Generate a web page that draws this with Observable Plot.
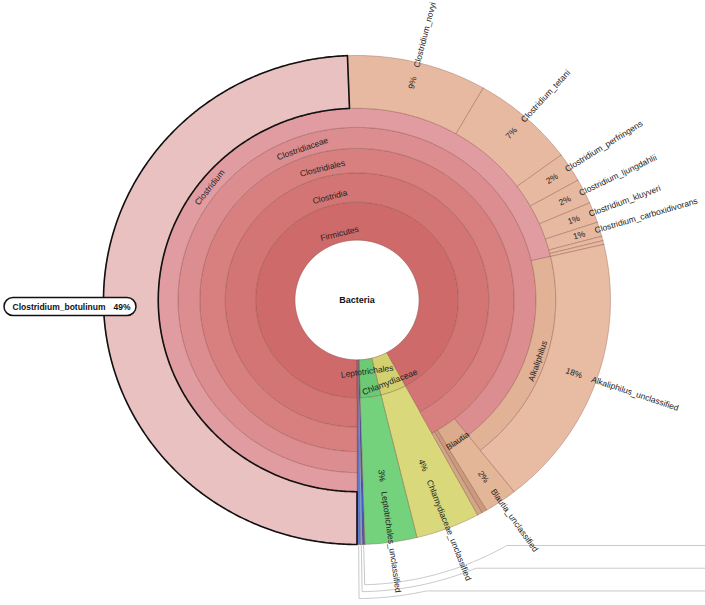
<!DOCTYPE html>
<html><head><meta charset="utf-8">
<script src="https://cdn.jsdelivr.net/npm/d3@7"></script>
<script src="https://cdn.jsdelivr.net/npm/@observablehq/plot@0.6"></script>
<style>body{margin:0;background:#fff}</style>
</head><body><div id="chart"></div>
<script>
// ---------------- DATA ----------------
const leafNames = [
  "Clostridium_botulinum","Clostridium_novyi","Clostridium_tetani","Clostridium_perfringens",
  "Clostridium_ljungdahlii","Clostridium_kluyveri","Clostridium_carboxidivorans",
  "Clostridium_other_1","Clostridium_other_2",
  "Alkaliphilus_unclassified","Blautia_unclassified",
  "Clostridiales_other_1","Clostridiales_other_2",
  "Chlamydiaceae_unclassified","Leptotrichales_unclassified",
  "Bacteria_other_1","Bacteria_other_2","Bacteria_other_3"
];
const leafPercents = [49.4, 8.9, 6.6, 1.95, 1.65, 1.35, 0.95, 0.3, 0.25, 18.0, 2.1, 0.35, 0.3, 4.1, 3.3, 0.17, 0.12, 0.21];
const CLOS = "Bacteria;Firmicutes;Clostridia;Clostridiales;Clostridiaceae;Clostridium";
const leafLineages = [
  CLOS, CLOS, CLOS, CLOS, CLOS, CLOS, CLOS, CLOS, CLOS,
  "Bacteria;Firmicutes;Clostridia;Clostridiales;Clostridiaceae;Alkaliphilus",
  "Bacteria;Firmicutes;Clostridia;Clostridiales;Blautia",
  "Bacteria;Firmicutes;Clostridia;Clostridiales",
  "Bacteria;Firmicutes;Clostridia;Clostridiales",
  "Bacteria;Chlamydiaceae",
  "Bacteria;Leptotrichales",
  "Bacteria","Bacteria","Bacteria"
];
const rootName = "Bacteria";
const selectedLeaf = "Clostridium_botulinum";

// ---------------- STYLE / LAYOUT ----------------
const ringR = [0, 0.245, 0.40, 0.52, 0.62, 0.706, 0.784, 1.0];
const START = 180; // degrees clockwise from 12 o'clock
const colors = {
  "Bacteria": "#ffffff",
  "Firmicutes": "#cf6a6a", "Clostridia": "#d47575", "Clostridiales": "#d88080",
  "Clostridiaceae": "#dc8d8f", "Clostridium": "#e09ca0",
  "Clostridium_botulinum": "#eac1c1",
  "Alkaliphilus": "#e2b296", "Alkaliphilus_unclassified": "#e7bca2",
  "Blautia": "#dcab8d", "Blautia_unclassified": "#e4b698",
  "Clostridiales_other_1": "#c99b7c", "Clostridiales_other_2": "#d3a688",
  "Chlamydiaceae": "#d3d070", "Chlamydiaceae_unclassified": "#d9d97b",
  "Leptotrichales": "#6cc974", "Leptotrichales_unclassified": "#74d17c",
  "Bacteria_other_1": "#4a5ac4", "Bacteria_other_2": "#7eb6e8", "Bacteria_other_3": "#5d7ad2"
};
const defaultSpeciesColor = "#e6b9a0";
const labelExtra = {"Chlamydiaceae": 0.065, "Blautia": 0.03};
const FONT = "Liberation Sans, Arial, Helvetica, sans-serif";
const SX = 253.5, SY = 244.5; // pixel radii of the unit circle

// ---------------- BUILD NODES ----------------
const rad = d => d * Math.PI / 180;
const pos = (r, a) => [r * Math.sin(rad(a)), r * Math.cos(rad(a))];
const nodes = new Map();
let acc = START;
leafNames.forEach((name, i) => {
  const span = leafPercents[i] * 3.6;
  const a0 = acc, a1 = acc + span; acc = a1;
  const path = leafLineages[i].split(";").concat(name);
  path.forEach((n, j) => {
    const key = path.slice(0, j + 1).join(";");
    const last = j === path.length - 1;
    if (!nodes.has(key)) nodes.set(key, {name: n, ring0: j, ring1: last ? 6 : j, a0, a1, leaf: last, pct: 0});
    const nd = nodes.get(key);
    nd.a0 = Math.min(nd.a0, a0); nd.a1 = Math.max(nd.a1, a1); nd.pct += leafPercents[i];
  });
});

function wedgePts(id, a0, a1, r0, r1, color) {
  const pts = [];
  const n = Math.max(2, Math.ceil((a1 - a0) / 0.5));
  for (let k = 0; k <= n; k++) { const a = a0 + (a1 - a0) * k / n; const [x, y] = pos(r1, a); pts.push({id, x, y, color}); }
  if (r0 > 0) for (let k = n; k >= 0; k--) { const a = a0 + (a1 - a0) * k / n; const [x, y] = pos(r0, a); pts.push({id, x, y, color}); }
  pts.push({...pts[0]});
  return pts;
}

const nodeList = Array.from(nodes.entries()).map(([key, nd]) => ({key, ...nd}))
  .sort((a, b) => a.ring0 - b.ring0);
let wedgeData = [];
for (const nd of nodeList) {
  const col = colors[nd.name] || defaultSpeciesColor;
  if (nd.ring0 === 0) wedgeData = wedgeData.concat(wedgePts(nd.key, 0, 360, 0, ringR[1], col));
  else wedgeData = wedgeData.concat(wedgePts(nd.key, nd.a0, nd.a1, ringR[nd.ring0], ringR[nd.ring1 + 1], col));
}
const sel = nodeList.find(n => n.name === selectedLeaf);
const selOutline = wedgePts("sel", sel.a0, sel.a1, ringR[sel.ring0], ringR[sel.ring1 + 1], "none");

// internal (tangential) labels
const innerLabels = [];
for (const nd of nodeList) {
  if (nd.ring0 === 0 || nd.leaf || nd.a1 - nd.a0 < 3) continue;
  const m = (nd.a0 + nd.a1) / 2;
  let t = ((m + 180) % 360 + 360) % 360 - 180;
  let flipped = false;
  if (t > 90) { t -= 180; flipped = true; } else if (t < -90) { t += 180; flipped = true; }
  const r = ringR[nd.ring0] + (flipped ? 0.05 : 0.035) + (labelExtra[nd.name] || 0);
  const [x, y] = pos(r, m);
  innerLabels.push({x, y, rot: t, text: nd.name});
}
// leaf (radial) labels
const pctLabels = [], nameLabels = [];
for (const nd of nodeList) {
  if (!nd.leaf || nd.name === selectedLeaf || nd.a1 - nd.a0 < 3) continue;
  const m = (nd.a0 + nd.a1) / 2;
  const rIn = ringR[nd.ring0], rOut = ringR[nd.ring1 + 1];
  const pr = Math.min(0.94, (rIn + rOut) / 2 + 0.05);
  const rot = Math.atan2(-SY * Math.cos(rad(m)), SX * Math.sin(rad(m))) * 180 / Math.PI;
  const [px, py] = pos(pr, m), [nx, ny] = pos(pr + 0.04, m);
  pctLabels.push({x: px, y: py, rot, text: Math.round(nd.pct) + "%"});
  nameLabels.push({x: nx, y: ny, rot, text: nd.name});
}
// leader lines for tiny unlabeled root-level wedges
const tiny = nodeList.filter(n => n.leaf && n.ring0 === 1 && n.a1 - n.a0 < 3).sort((a, b) => a.a0 - b.a0);
let leaders = [];
tiny.forEach((nd, k) => {
  const m = (((nd.a0 + nd.a1) / 2) % 360 + 360) % 360;
  const rk = 1.165 + 0.028 * k, yk = -(1.004 + 0.093 * k);
  const aEnd = Math.acos(yk / rk) * 180 / Math.PI;
  const pts = [];
  let [x, y] = pos(1.0, m); pts.push({id: k, x, y});
  for (let a = m; a > aEnd; a -= 0.5) { [x, y] = pos(rk, a); pts.push({id: k, x, y}); }
  [x, y] = pos(rk, aEnd); pts.push({id: k, x, y});
  pts.push({id: k, x: 1.5, y: yk});
  leaders = leaders.concat(pts);
});
// selected-node label box
const sm = (sel.a0 + sel.a1) / 2;
const [bx, by0] = pos(0.87, sm);
const by = by0 - 3 / SY;
const box = [{x1: bx - 132 / SX, x2: bx, y1: by - 9 / SY, y2: by + 9 / SY}];
const boxName = [{x: bx - 124 / SX, y: by, text: selectedLeaf}];
const boxPct = [{x: bx - 6 / SX, y: by, text: Math.round(sel.pct) + "%"}];

const chart = Plot.plot({
  width: 705, height: 605,
  marginTop: 0, marginRight: 0, marginBottom: 0, marginLeft: 0,
  x: {domain: [-1, 1], range: [356.5 - SX, 356.5 + SX], axis: null},
  y: {domain: [-1, 1], range: [299.5 + SY, 299.5 - SY], axis: null},
  color: {type: "identity"},
  style: {background: "white", overflow: "visible"},
  marks: [
    Plot.line(leaders, {x: "x", y: "y", z: "id", stroke: "#c9c9c9", strokeWidth: 1, curve: "linear"}),
    Plot.line(wedgeData, {x: "x", y: "y", z: "id", fill: "color", stroke: "rgba(120,60,50,0.45)", strokeWidth: 0.7, curve: "linear"}),
    Plot.line(selOutline, {x: "x", y: "y", stroke: "#111", strokeWidth: 1.6, curve: "linear"}),
    Plot.text(innerLabels, {x: "x", y: "y", text: "text", rotate: "rot", fontSize: 8.5, fontFamily: FONT, fill: "#222"}),
    Plot.text(pctLabels, {x: "x", y: "y", text: "text", rotate: "rot", textAnchor: "end", fontSize: 8.5, fontFamily: FONT, fill: "#222"}),
    Plot.text(nameLabels, {x: "x", y: "y", text: "text", rotate: "rot", textAnchor: "start", fontSize: 8.5, fontFamily: FONT, fill: "#222"}),
    Plot.text([{x: 0, y: 0, text: rootName}], {x: "x", y: "y", text: "text", fontSize: 9, fontWeight: "bold", fontFamily: FONT, fill: "#111"}),
    Plot.rect(box, {x1: "x1", x2: "x2", y1: "y1", y2: "y2", rx: 9, fill: "white", stroke: "#111", strokeWidth: 1.5}),
    Plot.text(boxName, {x: "x", y: "y", text: "text", textAnchor: "start", fontSize: 8.5, fontWeight: "bold", fontFamily: FONT, fill: "#111"}),
    Plot.text(boxPct, {x: "x", y: "y", text: "text", textAnchor: "end", fontSize: 8.5, fontWeight: "bold", fontFamily: FONT, fill: "#111"})
  ]
});
document.getElementById("chart").appendChild(chart);
</script>
</body></html>
